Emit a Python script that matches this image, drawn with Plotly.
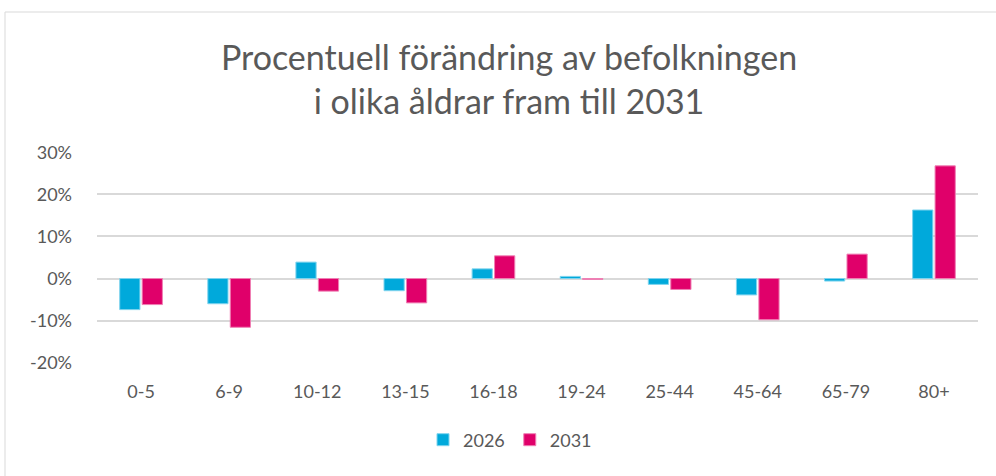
import plotly.graph_objects as go

categories = ["0-5", "6-9", "10-12", "13-15", "16-18", "19-24", "25-44", "45-64", "65-79", "80+"]
values_2026 = [-7.4, -6.0, 3.9, -2.9, 2.3, 0.5, -1.4, -3.9, -0.6, 16.3]
values_2031 = [-6.2, -11.6, -3.0, -5.8, 5.4, -0.2, -2.6, -9.8, 5.8, 26.8]
y_ticks = [-20, -10, 0, 10, 20, 30]
y_tick_labels = ["-20%", "-10%", "0%", "10%", "20%", "30%"]

FONT = "Lato, 'Open Sans', sans-serif"
TXT = "#595959"

fig = go.Figure()
fig.add_trace(go.Bar(x=categories, y=values_2026, name="2026",
                     marker=dict(color="#00A9DB", line=dict(color="#7FD4EE", width=1))))
fig.add_trace(go.Bar(x=categories, y=values_2031, name="2031",
                     marker=dict(color="#E0006A", line=dict(color="#EF7FB4", width=1))))

W, H = 996, 476
L, R, T, B = 97, 18, 152, 113
pw, ph = W - L - R, H - T - B

fig.update_layout(
    width=W, height=H,
    margin=dict(l=L, r=R, t=T, b=B),
    paper_bgcolor="white", plot_bgcolor="white",
    barmode="group", bargap=0.49, bargroupgap=0.1,
    font=dict(family=FONT, color=TXT, size=18),
    title=dict(text="Procentuell förändring av befolkningen<br>i olika åldrar fram till 2031",
               x=509 / W, xanchor="center", y=1 - 70 / H, yanchor="middle",
               font=dict(family=FONT, size=34, color=TXT)),
    showlegend=True,
    legend=dict(orientation="h", x=(510 - L) / pw, xanchor="center",
                y=(H - B - 440) / ph, yanchor="middle",
                font=dict(size=18, color=TXT), itemwidth=30, traceorder="normal"),
    xaxis=dict(type="category", showgrid=False, showline=False, ticks="",
               ticklabelstandoff=16, tickfont=dict(size=18, color=TXT)),
    yaxis=dict(range=[-20.1, 30.1], tickvals=y_ticks, ticktext=y_tick_labels,
               showgrid=True, gridcolor="#D9D9D9", gridwidth=1.5,
               zeroline=True, zerolinecolor="#D9D9D9", zerolinewidth=1.5,
               showline=False, ticks="", ticklabelstandoff=24,
               tickfont=dict(size=18, color=TXT)),
    shapes=[dict(type="rect", xref="paper", yref="paper",
                 x0=(5 - L) / pw, x1=(W + 20 - L) / pw,
                 y0=-(B + 20) / ph, y1=(H - B - 12) / ph,
                 line=dict(color="#D9D9D9", width=1), fillcolor="rgba(0,0,0,0)",
                 layer="below")],
)

fig.write_html("out.html", config={"displayModeBar": False},
               post_script="document.body.style.margin='0';")
